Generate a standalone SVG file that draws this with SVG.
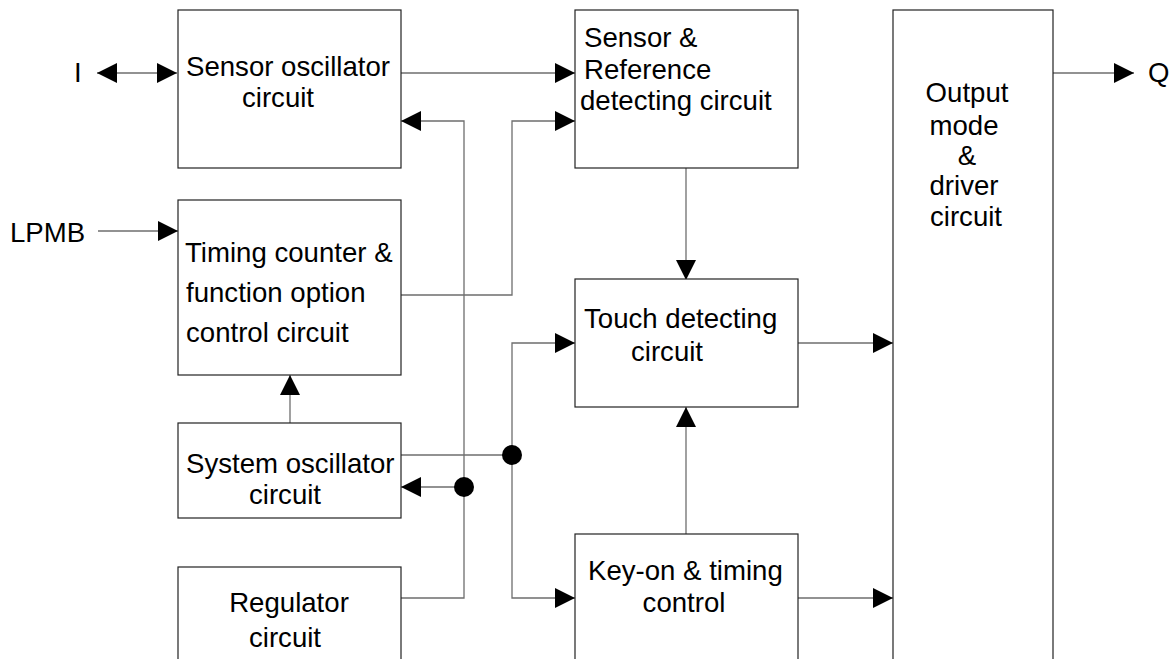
<svg xmlns="http://www.w3.org/2000/svg" width="1176" height="659" viewBox="0 0 1176 659">
  <defs>
    <style>
      .box { fill: #ffffff; stroke: #222222; stroke-width: 1.2; }
      .wire { fill: none; stroke: #6e6e6e; stroke-width: 1.3; }
      .lbl { font-family: "Liberation Sans", Arial, sans-serif; font-size: 27.6px; fill: #000000; }
      .mid { text-anchor: middle; }
      .dot { fill: #000000; }
    </style>
    <marker id="arrow" markerUnits="userSpaceOnUse" markerWidth="20" markerHeight="20" refX="20" refY="10" orient="auto-start-reverse">
      <path d="M0,0 L20,10 L0,20 Z" fill="#000000"/>
    </marker>
  </defs>

  <rect width="1176" height="659" fill="#ffffff"/>

  <!-- connectors -->
  <g id="connectors">
    <path class="wire" d="M97,73 H177" marker-start="url(#arrow)" marker-end="url(#arrow)"/>
    <path class="wire" d="M401,73 H575" marker-end="url(#arrow)"/>
    <path class="wire" d="M98,231 H178" marker-end="url(#arrow)"/>
    <path class="wire" d="M401,598 H464 V121 H401" marker-end="url(#arrow)"/>
    <path class="wire" d="M464,487 H401" marker-end="url(#arrow)"/>
    <path class="wire" d="M401,295 H512 V121 H575" marker-end="url(#arrow)"/>
    <path class="wire" d="M290,423 V375" marker-end="url(#arrow)"/>
    <path class="wire" d="M401,455 H512"/>
    <path class="wire" d="M512,455 V343 H575" marker-end="url(#arrow)"/>
    <path class="wire" d="M512,455 V598 H575" marker-end="url(#arrow)"/>
    <path class="wire" d="M686,168 V280" marker-end="url(#arrow)"/>
    <path class="wire" d="M686,534 V407" marker-end="url(#arrow)"/>
    <path class="wire" d="M798,343 H893" marker-end="url(#arrow)"/>
    <path class="wire" d="M798,598 H893" marker-end="url(#arrow)"/>
    <path class="wire" d="M1053,73 H1134" marker-end="url(#arrow)"/>
    <circle class="dot" cx="464" cy="487" r="10"/>
    <circle class="dot" cx="512" cy="455" r="10"/>
  </g>

  <!-- terminal labels -->
  <g id="pin-I"><text class="lbl" x="74" y="82">I</text></g>
  <g id="pin-LPMB"><text class="lbl" x="10" y="242">LPMB</text></g>
  <g id="pin-Q"><text class="lbl" x="1148" y="82">Q</text></g>

  <!-- blocks -->
  <g id="sensor-oscillator">
    <rect class="box" x="178" y="10" width="223" height="158"/>
    <text class="lbl" x="186" y="76">Sensor oscillator</text>
    <text class="lbl mid" x="278" y="107">circuit</text>
  </g>

  <g id="timing-counter">
    <rect class="box" x="178" y="200" width="223" height="175"/>
    <text class="lbl" x="185" y="262">Timing counter &amp;</text>
    <text class="lbl" x="186" y="302">function option</text>
    <text class="lbl" x="186" y="342">control circuit</text>
  </g>

  <g id="system-oscillator">
    <rect class="box" x="178" y="423" width="223" height="95"/>
    <text class="lbl" x="186" y="473">System oscillator</text>
    <text class="lbl mid" x="285" y="504">circuit</text>
  </g>

  <g id="regulator">
    <rect class="box" x="178" y="567" width="223" height="110"/>
    <text class="lbl mid" x="289" y="612">Regulator</text>
    <text class="lbl mid" x="285" y="647">circuit</text>
  </g>

  <g id="sensor-reference">
    <rect class="box" x="575" y="10" width="223" height="158"/>
    <text class="lbl" x="584" y="47">Sensor &amp;</text>
    <text class="lbl" x="584" y="79">Reference</text>
    <text class="lbl" x="580" y="110">detecting circuit</text>
  </g>

  <g id="touch-detecting">
    <rect class="box" x="575" y="279" width="223" height="128"/>
    <text class="lbl" x="584" y="328">Touch detecting</text>
    <text class="lbl mid" x="667" y="361">circuit</text>
  </g>

  <g id="key-on-timing">
    <rect class="box" x="575" y="534" width="223" height="140"/>
    <text class="lbl" x="588" y="580">Key-on &amp; timing</text>
    <text class="lbl mid" x="684" y="612">control</text>
  </g>

  <g id="output-driver">
    <rect class="box" x="893" y="10" width="160" height="670"/>
    <text class="lbl mid" x="967" y="102">Output</text>
    <text class="lbl mid" x="964" y="135">mode</text>
    <text class="lbl mid" x="967" y="165">&amp;</text>
    <text class="lbl mid" x="964" y="195">driver</text>
    <text class="lbl mid" x="966" y="226">circuit</text>
  </g>
</svg>
